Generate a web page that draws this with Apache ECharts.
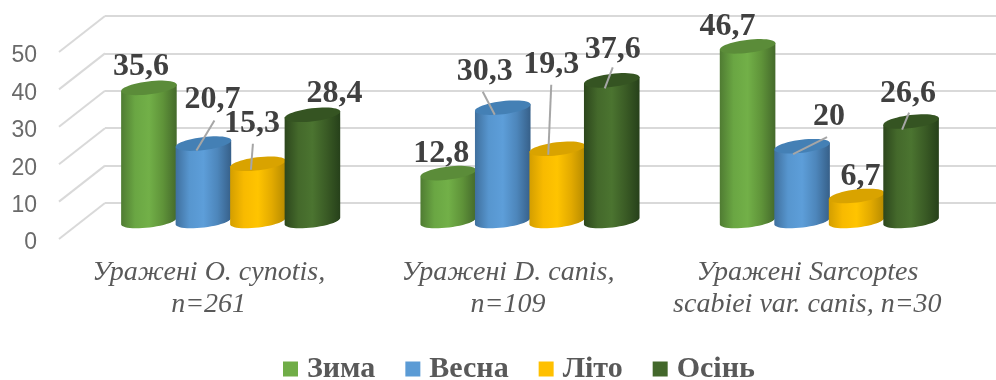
<!DOCTYPE html>
<html><head><meta charset="utf-8">
<style>html,body{margin:0;padding:0;background:#fff}#c{width:996px;height:380px}</style>
<script src="https://cdn.jsdelivr.net/npm/echarts@6/dist/echarts.min.js"></script>
</head><body><div id="c"></div>
<script>
const categories = ['Уражені O. cynotis,\nn=261', 'Уражені D. canis,\nn=109', 'Уражені Sarcoptes\nscabiei var. canis, n=30'];
const seasons = ['Зима', 'Весна', 'Літо', 'Осінь'];
const winter = [35.6, 12.8, 46.7];
const spring = [20.7, 30.3, 20];
const summer = [15.3, 19.3, 6.7];
const autumn = [28.4, 37.6, 26.6];
const ticks = [0, 10, 20, 30, 40, 50];

// label placement relative to each cylinder top: [dx, dy, leaderStartDx, leaderStartDy, leaderEndDx, leaderEndDy]
const winterLabels = [[-8,-21],[-7,-19],[-20,-20]];
const springLabels = [[9,-44,11,-23,-7,7],[-18,-36,-20,-16,-8,7],[27,-29,25,-9,-9,8]];
const summerLabels = [[-6,-40,-5,-20,-7,6],[-6,-84,-6,-64,-9,6],[4,-19]];
const autumnLabels = [[22,-21],[1,-31,1,-13,-7,8],[-3,-28,-2,-9,-9,8]];

const palettes = [
  {main:'#70ad47', stops:['#4f7b32','#6aa643','#72b048','#5f9339','#44692b'], top:'#5b8c39'},
  {main:'#5b9bd5', stops:['#3f6f9d','#5796cf','#5d9ed9','#4d86bb','#365f88'], top:'#4480b5'},
  {main:'#ffc000', stops:['#d39e00','#f8ba00','#ffc400','#e2aa00','#b58a00'], top:'#d9a300'},
  {main:'#43682b', stops:['#2c461c','#44692b','#4b7430','#3a5b25','#26401a'], top:'#355422'}
];
const BAR_W = 54.5, RX = 28, RY = 6.5, TILT = -7 * Math.PI / 180;

function ellipsePts(cx, cy, from, to, n) {
  const pts = [];
  for (let i = 0; i <= n; i++) {
    const t = from + (to - from) * i / n;
    const ex = RX * Math.cos(t), ey = RY * Math.sin(t);
    pts.push([cx + ex * Math.cos(TILT) - ey * Math.sin(TILT), cy + ex * Math.sin(TILT) + ey * Math.cos(TILT)]);
  }
  return pts;
}
function cylinder(sIdx, labels) {
  return function (params, api) {
    const v = api.value(1);
    const top = api.coord([api.value(0), v]);
    const base = api.coord([api.value(0), 0]);
    const cx = top[0] + (sIdx - 1.5) * BAR_W;
    const p = palettes[sIdx];
    const xl = cx - RX, xr = cx + RX;
    const n = p.stops.length - 1;
    const fill = {type:'linear', x:xl, y:0, x2:xr, y2:0, global:true,
      colorStops:p.stops.map((c, i) => ({offset:i / n, color:c}))};
    const pts = ellipsePts(cx, top[1], Math.PI, 2 * Math.PI, 1).concat(ellipsePts(cx, base[1], 0, Math.PI, 24));
    const children = [
      {type:'polygon', shape:{points:pts}, style:{fill:fill}},
      {type:'polygon', shape:{points:ellipsePts(cx, top[1], 0, 2 * Math.PI, 48)}, style:{fill:p.top}}
    ];
    const l = labels[params.dataIndex];
    if (l.length > 2) {
      children.push({type:'line', shape:{x1:cx + l[2], y1:top[1] + l[3], x2:cx + l[4], y2:top[1] + l[5]},
        style:{stroke:'#a6a6a6', lineWidth:2}});
    }
    children.push({type:'text', z2:10, x:cx + l[0], y:top[1] + l[1], style:{
      text:String(v).replace('.', ','), fontFamily:'Liberation Serif', fontWeight:'bold', fontSize:32,
      fill:'#404040', align:'center', verticalAlign:'middle'}});
    return {type:'group', children};
  };
}
const seasonData = [winter, spring, summer, autumn];
const seasonLabels = [winterLabels, springLabels, summerLabels, autumnLabels];

const chart = echarts.init(document.getElementById('c'), null, {renderer:'canvas'});
chart.setOption({
  animation:false,
  backgroundColor:'#fff',
  legend:{
    data:seasons, icon:'rect', top:349, left:278, itemWidth:15, itemHeight:15, itemGap:30,
    selectedMode:false,
    textStyle:{fontFamily:'Liberation Serif', fontWeight:'bold', fontSize:30, color:'#595959', padding:[0,0,0,4]}
  },
  grid:[
    {left:59, top:53, width:898, height:187},
    {left:81, top:34, width:898, height:187},
    {left:105, top:16, right:0, height:187},
    {left:59, top:56, width:898, height:187}
  ],
  xAxis:[
    {gridIndex:0, type:'category', data:categories, axisLine:{show:false}, axisTick:{show:false},
      axisLabel:{margin:17, fontFamily:'Liberation Serif', fontStyle:'italic', fontSize:28, lineHeight:32, color:'#595959', interval:0}},
    ...[1, 2, 3].map(i => ({gridIndex:i, type:'category', data:categories, axisLine:{show:false}, axisTick:{show:false}, axisLabel:{show:false}}))
  ],
  yAxis:[0, 1, 2, 3].map(i => ({
    gridIndex:i, type:'value', min:0, max:50, interval:10,
    axisLine:{show:false}, axisTick:{show:false},
    splitLine:{show:i === 2, lineStyle:{color:'#d9d9d9', width:2}},
    axisLabel:i === 3
      ? {show:true, margin:22, fontFamily:'Liberation Sans', fontSize:23, color:'#6a6a6a'}
      : {show:false}
  })),
  series:[
    {type:'custom', xAxisIndex:0, yAxisIndex:0, silent:true, z:1, data:ticks.map(t => [0, t]),
      renderItem:(params, api) => {
        const y = api.coord([0, api.value(1)])[1];
        const x = params.coordSys.x;
        return {type:'line', shape:{x1:x, y1:y - 1, x2:x + 46, y2:y - 37}, style:{stroke:'#d9d9d9', lineWidth:2}};
      }},
    ...seasons.map((name, s) => ({
      name, type:'custom', xAxisIndex:1, yAxisIndex:1, z:3 + s, silent:true,
      itemStyle:{color:palettes[s].main},
      data:seasonData[s].map((v, i) => [i, v]),
      encode:{x:0, y:1},
      renderItem:cylinder(s, seasonLabels[s])
    }))
  ]
});
</script></body></html>
